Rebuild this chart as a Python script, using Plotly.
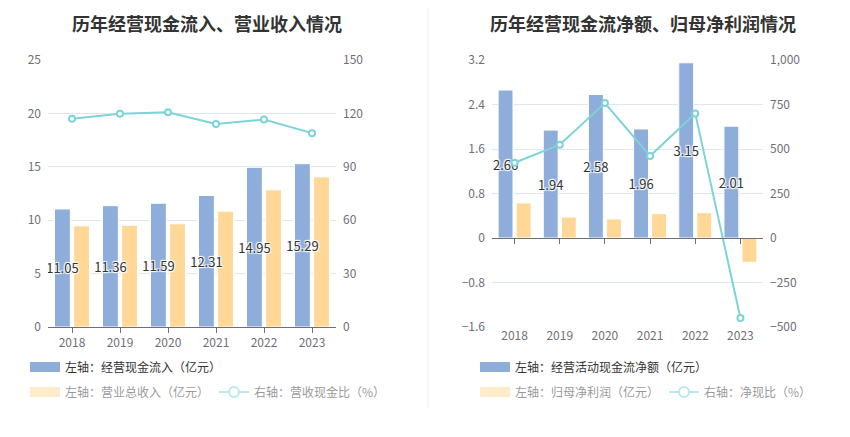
import plotly.graph_objects as go

years = ["2018", "2019", "2020", "2021", "2022", "2023"]

# 左图
cash_in = [11.05, 11.36, 11.59, 12.31, 14.95, 15.29]      # 经营现金流入（亿元）
revenue = [9.47, 9.53, 9.66, 10.84, 12.84, 14.06]         # 营业总收入（亿元）
cash_rev_ratio = [117.0, 119.8, 120.6, 114.0, 116.6, 108.9]  # 营收现金比（%）

# 右图
op_cash_net = [2.66, 1.94, 2.58, 1.96, 3.15, 2.01]        # 经营活动现金流净额（亿元）
net_profit = [0.63, 0.377, 0.342, 0.437, 0.455, -0.437]   # 归母净利润（亿元）
cash_profit_ratio = [423, 524, 758, 461, 700, -449]       # 净现比（%）

BLUE = "#8eaddb"
ORANGE = "#ffd796"
TEAL = "#7ed3d8"
AXIS = "#6e7079"
GRID = "#e0e6f1"
FONT = "Noto Sans CJK SC"

W, H = 850, 437
OFF = 8  # 页面 body 默认边距


def px_x(p):
    return (p - OFF) / W


def px_y(p):
    return 1 - (p - OFF) / H


label_font = dict(
    color="#333", size=13, family=FONT,
    shadow="1px 1px 1px #fff, -1px -1px 1px #fff, 1px -1px 1px #fff, -1px 1px 1px #fff",
)

fig = go.Figure()


def add_panel(fig, xa, xl, ya, ya2, bar1, bar1_name, bar2, bar2_name, line, line_name, lg1, lg2):
    # 橙色柱先画，蓝色柱（带标签）后画，保证标签在最上层
    fig.add_trace(go.Bar(
        x=years, y=bar2, name=bar2_name, width=0.33, offset=0.035,
        marker=dict(color=ORANGE, line=dict(color="white", width=1)),
        xaxis=xa, yaxis=ya, showlegend=False, hoverinfo="skip"))
    fig.add_trace(go.Bar(
        x=years, y=bar1, name=bar1_name, width=0.33, offset=-0.365,
        marker=dict(color=BLUE, line=dict(color="white", width=1)),
        text=[f"{v:.2f}" for v in bar1], textposition="inside", insidetextanchor="middle",
        constraintext="none", textangle=0, textfont=label_font,
        xaxis=xa, yaxis=ya, showlegend=False, hoverinfo="skip"))
    fig.add_trace(go.Scatter(
        x=years, y=line, name=line_name, mode="lines+markers",
        line=dict(color=TEAL, width=2),
        marker=dict(symbol="circle", size=6, color="white", line=dict(color=TEAL, width=2)),
        xaxis=xl, yaxis=ya2, showlegend=False, hoverinfo="skip"))
    # 图例：第一行正常，第二行淡显
    fig.add_trace(go.Scatter(x=[None], y=[None], name=bar1_name, mode="lines",
                             line=dict(color=BLUE, width=13), xaxis=xa, yaxis=ya, legend=lg1))
    fig.add_trace(go.Scatter(x=years, y=bar2, name=bar2_name, mode="lines",
                             line=dict(color=ORANGE, width=13),
                             xaxis=xa, yaxis=ya, visible="legendonly", legend=lg2))
    fig.add_trace(go.Scatter(x=years, y=line, name=line_name, mode="lines+markers",
                             line=dict(color=TEAL, width=2),
                             marker=dict(symbol="circle", size=10, color="white", line=dict(color=TEAL, width=2)),
                             xaxis=xl, yaxis=ya2, visible="legendonly", legend=lg2))


add_panel(fig, "x", "x", "y", "y2", cash_in, "左轴：经营现金流入（亿元）", revenue, "左轴：营业总收入（亿元）",
          cash_rev_ratio, "右轴：营收现金比（%）", "legend", "legend2")
add_panel(fig, "x2", "x3", "y3", "y4", op_cash_net, "左轴：经营活动现金流净额（亿元）", net_profit, "左轴：归母净利润（亿元）",
          cash_profit_ratio, "右轴：净现比（%）", "legend3", "legend4")

tick_font = dict(color=AXIS, size=12, family=FONT)
y_dom = [px_y(327), px_y(60)]
zero_pos = y_dom[0] + (y_dom[1] - y_dom[0]) * 1.6 / 4.8
legend_font = dict(size=12, color="#333", family=FONT)
cat_range = [-0.5, len(years) - 0.5]


def legend_at(xp, yp):
    return dict(x=px_x(xp), y=px_y(yp), xanchor="left", yanchor="middle", orientation="h",
                font=legend_font, bgcolor="rgba(0,0,0,0)", itemwidth=30)


fig.update_layout(
    width=W, height=H,
    margin=dict(l=0, r=0, t=0, b=0, autoexpand=False),
    paper_bgcolor="white", plot_bgcolor="white",
    barmode="overlay",
    font=dict(family=FONT, color="#333"),
    xaxis=dict(domain=[px_x(48), px_x(336)], anchor="y", type="category", range=cat_range, tickfont=tick_font,
               showline=True, linecolor=AXIS, linewidth=1, ticks="outside", ticklen=5, tickcolor=AXIS,
               showgrid=False),
    yaxis=dict(domain=y_dom, anchor="x", range=[0, 25], dtick=5, tickfont=tick_font,
               gridcolor=GRID, zeroline=False, ticklabelstandoff=6),
    yaxis2=dict(overlaying="y", anchor="x", side="right", range=[0, 150], dtick=30, tickfont=tick_font,
                showgrid=False, zeroline=False, ticklabelstandoff=6),
    xaxis2=dict(domain=[px_x(492), px_x(763)], anchor="y3", type="category", range=cat_range, tickfont=tick_font,
                showline=False, showgrid=False),
    xaxis3=dict(overlaying="x2", anchor="free", position=zero_pos, type="category", range=cat_range,
                showticklabels=False, showline=True, linecolor=AXIS, linewidth=1,
                ticks="outside", ticklen=5, tickcolor=AXIS, showgrid=False),
    yaxis3=dict(domain=y_dom, anchor="x2", range=[-1.6, 3.2], dtick=0.8, tickformat=".1~f", tickfont=tick_font,
                gridcolor=GRID, zeroline=False, ticklabelstandoff=6),
    yaxis4=dict(overlaying="y3", anchor="x2", side="right", range=[-500, 1000], dtick=250, tickformat=",",
                tickfont=tick_font, showgrid=False, zeroline=False, ticklabelstandoff=6),
    legend=legend_at(25, 367),
    legend2=legend_at(25, 392),
    legend3=legend_at(475, 367),
    legend4=legend_at(475, 392),
    showlegend=True,
)

title_font = dict(size=18, color="#333", family=FONT)
fig.add_annotation(text="<b>历年经营现金流入、营业收入情况</b>", x=px_x(207), y=1,
                   xref="paper", yref="paper", xanchor="center", yanchor="top",
                   showarrow=False, font=title_font)
fig.add_annotation(text="<b>历年经营现金流净额、归母净利润情况</b>", x=px_x(643), y=1,
                   xref="paper", yref="paper", xanchor="center", yanchor="top",
                   showarrow=False, font=title_font)
fig.add_shape(type="line", xref="paper", yref="paper", x0=px_x(428), x1=px_x(428), y0=px_y(408), y1=1,
              line=dict(color="#eeeeee", width=1))

fig.write_html("out.html")
